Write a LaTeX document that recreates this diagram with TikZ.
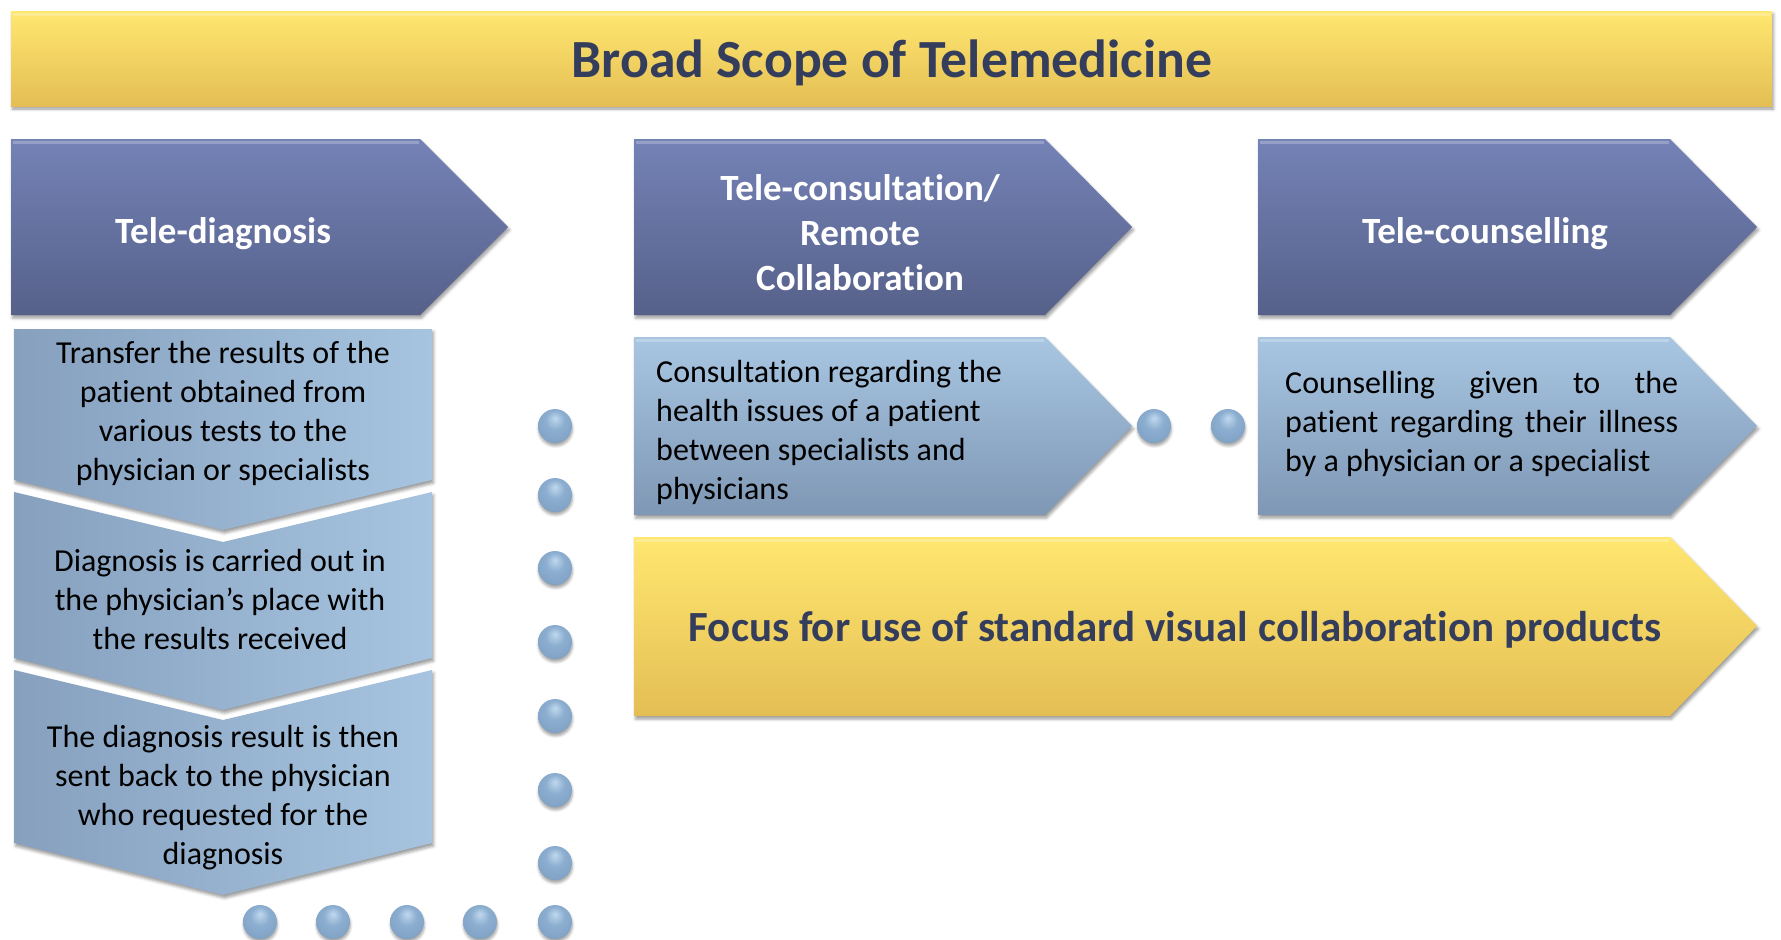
\documentclass[tikz,border=0pt]{standalone}
\usepackage{fontspec}
\setmainfont{Carlito}[Ligatures=NoCommon]
\usetikzlibrary{shadows.blur}

\definecolor{titletop}{RGB}{255,231,112}
\definecolor{titlebot}{RGB}{228,190,84}
\definecolor{headtop}{RGB}{116,130,182}
\definecolor{headbot}{RGB}{86,97,138}
\definecolor{celltop}{RGB}{168,198,226}
\definecolor{cellbot}{RGB}{126,151,180}
\definecolor{stackleft}{RGB}{134,160,190}
\definecolor{stackright}{RGB}{166,196,224}
\definecolor{navy}{RGB}{52,62,92}
\definecolor{dotlight}{RGB}{192,216,238}
\definecolor{dotmid}{RGB}{140,174,208}
\definecolor{dotdark}{RGB}{90,122,156}

\pgfdeclareradialshading{dotball}{\pgfpoint{0bp}{12bp}}{%
  color(0bp)=(dotlight); color(14bp)=(dotmid); color(28bp)=(dotmid!80!dotdark);
  color(38bp)=(dotdark); color(50bp)=(dotdark)}

\tikzset{
  softshadow/.style={blur shadow={shadow xshift=1.5pt, shadow yshift=-3pt,
      shadow blur radius=3pt, shadow opacity=40}},
  titlebar/.style={top color=titletop, bottom color=titlebot, softshadow},
  headshape/.style={top color=headtop, bottom color=headbot, softshadow},
  cellshape/.style={top color=celltop, bottom color=cellbot, softshadow},
  stackshape/.style={left color=stackleft, right color=stackright, softshadow},
  focusshape/.style={top color=titletop, bottom color=titlebot, softshadow},
  glint/.style={line width=3pt, white, opacity=0.25},
  titletext/.style={font=\fontsize{53.7}{64}\selectfont\bfseries, text=navy, inner sep=0pt},
  headtext/.style={font=\fontsize{37}{45}\selectfont\bfseries, text=white, align=center, inner sep=0pt},
  focustext/.style={font=\fontsize{43}{52}\selectfont\bfseries, text=navy, inner sep=0pt},
  bodytext/.style={font=\fontsize{32}{39}\selectfont, text=black, inner sep=0pt},
  dot/.style={circle, minimum size=34pt, inner sep=0pt, shading=dotball,
      blur shadow={shadow xshift=0.5pt, shadow yshift=-3pt, shadow blur radius=2.5pt, shadow opacity=35}}
}

\begin{document}
\begin{tikzpicture}[x=1pt,y=-1pt]
\useasboundingbox (0,0) rectangle (1781,940);

% title banner
\path[titlebar] (11,11) rectangle (1772,106);
\draw[glint] (13,14) -- (1770,14);
\node[titletext] (title) at (892,63) {Broad Scope of Telemedicine};

% three category arrows
\path[headshape] (11,139) -- (420,139) -- (508,227) -- (420,315) -- (11,315) -- cycle;
\path[headshape] (634,139) -- (1045,139) -- (1132,227) -- (1045,315) -- (634,315) -- cycle;
\path[headshape] (1258,139) -- (1670,139) -- (1757,227) -- (1670,315) -- (1258,315) -- cycle;
\draw[glint] (13,142) -- (419,142);
\draw[glint] (636,142) -- (1044,142);
\draw[glint] (1260,142) -- (1669,142);
\node[headtext] (diag) at (223,234) {Tele-diagnosis};
\node[headtext] (consult) at (860,233) {Tele-consultation/\\Remote\\Collaboration};
\node[headtext] (counsel) at (1485,234) {Tele-counselling};

% tele-diagnosis steps, stacked downward chevrons
\path[stackshape] (14,329) -- (432,329) -- (432,480) -- (223,530) -- (14,480) -- cycle;
\path[stackshape] (14,492) -- (223,542) -- (432,492) -- (432,658) -- (223,710) -- (14,658) -- cycle;
\path[stackshape] (14,670) -- (223,720) -- (432,670) -- (432,843) -- (223,895) -- (14,843) -- cycle;
\node[bodytext, align=center] (step1) at (223,413)
  {Transfer the results of the\\patient obtained from\\various tests to the\\physician or specialists};
\node[bodytext, align=center] (step2) at (220,599)
  {Diagnosis is carried out in\\the physician’s place with\\the results received};
\node[bodytext, align=center] (step3) at (223,798)
  {The diagnosis result is then\\sent back to the physician\\who requested for the\\diagnosis};

% descriptions of consultation and counselling
\path[cellshape] (634,337) -- (1045,337) -- (1132,426) -- (1045,515) -- (634,515) -- cycle;
\path[cellshape] (1258,337) -- (1670,337) -- (1757,426) -- (1670,515) -- (1258,515) -- cycle;
\draw[glint] (636,340) -- (1044,340);
\draw[glint] (1260,340) -- (1669,340);
\node[bodytext, align=left, anchor=west] (consulttext) at (656,432)
  {Consultation regarding the\\health issues of a patient\\between specialists and\\physicians};
\node[bodytext, align=justify, text width=393pt, anchor=west] (counseltext) at (1285,424)
  {Counselling given to the\linebreak patient regarding their illness\linebreak by a physician or a specialist};

% focus banner
\path[focusshape] (634,537) -- (1670,537) -- (1757,626) -- (1670,716) -- (634,716) -- cycle;
\draw[glint] (636,540) -- (1669,540);
\node[focustext] (focus) at (1175,630) {Focus for use of standard visual collaboration products};

% dotted trail
\foreach \y [count=\i] in {426,495,568,642,716,790,863}
  \node[dot] (v\i) at (555,\y) {};
\foreach \x [count=\i] in {260,333,407,480,555}
  \node[dot] (b\i) at (\x,922) {};
\node[dot] (m1) at (1154,426) {};
\node[dot] (m2) at (1228,426) {};
\end{tikzpicture}
\end{document}
